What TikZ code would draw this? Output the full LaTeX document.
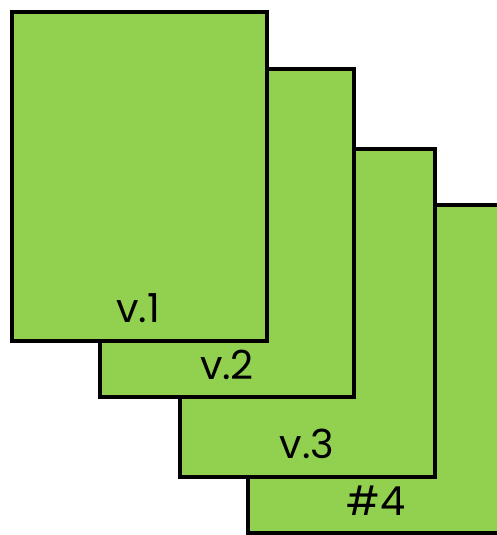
\documentclass[tikz,border=0pt]{standalone}
\usepackage{fontspec}
\setmainfont{Poppins}
\definecolor{pagegreen}{HTML}{92D050}
\begin{document}
\begin{tikzpicture}[x=1pt,y=-1pt,
  page/.style={draw=black,fill=pagegreen,line width=3.5pt},
  lbl/.style={font=\fontsize{40}{44}\selectfont,anchor=base,inner sep=0pt}]
\useasboundingbox (0,0) rectangle (497,535);
\clip (0,0) rectangle (497,535);
\path[page] (248,205) rectangle (530,533);
\path[page] (180,149) rectangle (435,477);
\path[page] (100,69) rectangle (354,397);
\path[page] (12,12) rectangle (267,341);
\node[lbl] (l1) at (138,322) {v.1};
\node[lbl] (l2) at (227,379) {v.2};
\node[lbl] (l3) at (307,458) {v.3};
\node[lbl] (l4) at (376,515) {\#4};
\end{tikzpicture}
\end{document}
